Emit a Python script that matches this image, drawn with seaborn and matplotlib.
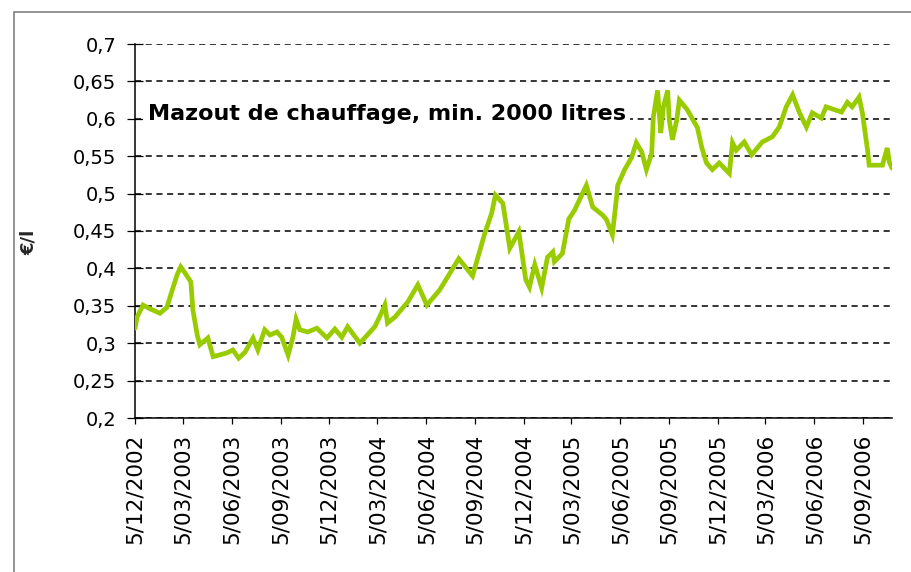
import matplotlib
matplotlib.use("Agg")
import matplotlib.pyplot as plt
import seaborn as sns
import pandas as pd
from matplotlib.patches import Rectangle

# ---- data ----
dates = [
    "2002-12-05", "2002-12-09", "2002-12-20", "2003-01-02", "2003-01-21", "2003-02-03",
    "2003-02-13", "2003-02-22", "2003-03-01", "2003-03-09", "2003-03-20", "2003-03-24",
    "2003-04-01", "2003-04-06", "2003-04-21", "2003-05-01", "2003-05-27", "2003-06-07",
    "2003-06-18", "2003-06-30", "2003-07-15", "2003-07-24", "2003-08-06", "2003-08-16",
    "2003-08-29", "2003-09-07", "2003-09-19", "2003-09-28", "2003-10-04", "2003-10-11",
    "2003-10-26", "2003-11-12", "2003-12-01", "2003-12-16", "2003-12-29", "2004-01-09",
    "2004-02-01", "2004-02-29", "2004-03-11", "2004-03-19", "2004-03-24", "2004-04-07",
    "2004-05-01", "2004-05-20", "2004-06-06", "2004-06-30", "2004-08-05", "2004-08-31",
    "2004-09-23", "2004-10-06", "2004-10-13", "2004-10-27", "2004-11-09", "2004-11-26",
    "2004-12-09", "2004-12-16", "2004-12-26", "2005-01-08", "2005-01-19", "2005-01-29",
    "2005-02-01", "2005-02-16", "2005-02-28", "2005-03-11", "2005-04-02", "2005-04-14",
    "2005-05-03", "2005-05-10", "2005-05-21", "2005-05-29", "2005-05-31", "2005-06-13",
    "2005-06-26", "2005-07-05", "2005-07-15", "2005-07-24", "2005-08-03", "2005-08-06",
    "2005-08-14", "2005-08-20", "2005-08-25", "2005-09-02", "2005-09-05", "2005-09-11",
    "2005-09-19", "2005-09-24", "2005-10-09", "2005-10-28", "2005-11-05", "2005-11-14",
    "2005-11-25", "2005-12-08", "2005-12-27", "2006-01-02", "2006-01-09", "2006-01-24",
    "2006-02-07", "2006-02-27", "2006-03-18", "2006-03-31", "2006-04-13", "2006-04-25",
    "2006-05-08", "2006-05-21", "2006-06-01", "2006-06-18", "2006-06-27", "2006-07-26",
    "2006-08-06", "2006-08-15", "2006-08-28", "2006-09-03", "2006-09-13", "2006-09-16",
    "2006-10-11", "2006-10-20", "2006-10-24", "2006-10-29",
]
prices = [
    0.320, 0.335, 0.351, 0.346, 0.340, 0.348,
    0.371, 0.391, 0.402, 0.394, 0.382, 0.344,
    0.311, 0.298, 0.307, 0.282, 0.287, 0.291,
    0.280, 0.288, 0.307, 0.291, 0.318, 0.311,
    0.315, 0.308, 0.284, 0.308, 0.332, 0.318,
    0.315, 0.320, 0.307, 0.319, 0.308, 0.322,
    0.300, 0.322, 0.338, 0.351, 0.327, 0.335,
    0.355, 0.378, 0.351, 0.371, 0.413, 0.390,
    0.447, 0.474, 0.498, 0.487, 0.427, 0.449,
    0.385, 0.375, 0.405, 0.374, 0.415, 0.422,
    0.409, 0.420, 0.466, 0.478, 0.511, 0.482,
    0.471, 0.465, 0.445, 0.496, 0.511, 0.532,
    0.548, 0.568, 0.556, 0.532, 0.554, 0.602,
    0.638, 0.581, 0.616, 0.638, 0.598, 0.572,
    0.598, 0.625, 0.612, 0.588, 0.562, 0.541,
    0.532, 0.541, 0.527, 0.568, 0.558, 0.569,
    0.552, 0.569, 0.576, 0.589, 0.616, 0.632,
    0.608, 0.589, 0.608, 0.601, 0.616, 0.609,
    0.622, 0.616, 0.629, 0.609, 0.558, 0.538,
    0.538, 0.561, 0.542, 0.534,
]
tick_dates = [
    "2002-12-05", "2003-03-05", "2003-06-05", "2003-09-05", "2003-12-05",
    "2004-03-05", "2004-06-05", "2004-09-05", "2004-12-05", "2005-03-05",
    "2005-06-05", "2005-09-05", "2005-12-05", "2006-03-05", "2006-06-05",
    "2006-09-05",
]
tick_labels = [
    "5/12/2002", "5/03/2003", "5/06/2003", "5/09/2003", "5/12/2003",
    "5/03/2004", "5/06/2004", "5/09/2004", "5/12/2004", "5/03/2005",
    "5/06/2005", "5/09/2005", "5/12/2005", "5/03/2006", "5/06/2006",
    "5/09/2006",
]
y_ticks = [0.2, 0.25, 0.3, 0.35, 0.4, 0.45, 0.5, 0.55, 0.6, 0.65, 0.7]
y_tick_labels = ["0,2", "0,25", "0,3", "0,35", "0,4", "0,45", "0,5", "0,55", "0,6", "0,65", "0,7"]
title_text = "Mazout de chauffage, min. 2000 litres"
y_label = "€/l"

# ---- plotting ----
sns.set_theme(style="white")
plt.rcParams["font.family"] = ["DejaVu Sans"]

W, H = 912, 572
fig = plt.figure(figsize=(W / 100, H / 100), dpi=100)
fig.patch.set_facecolor("white")
ax = fig.add_axes([135 / W, 1 - 418 / H, (892 - 135) / W, (418 - 44) / H])
ax.set_facecolor("white")

df = pd.DataFrame({"date": pd.to_datetime(dates), "price": prices})
sns.lineplot(data=df, x="date", y="price", color="#99CC00", linewidth=3.4,
             ax=ax, zorder=3, solid_joinstyle="miter")

ax.set_xlim(pd.Timestamp("2002-12-05"), pd.Timestamp("2006-10-29"))
ax.set_ylim(0.2, 0.7)

ax.set_xticks(pd.to_datetime(tick_dates))
ax.set_xticklabels(tick_labels, rotation=90, fontsize=15.5, color="black")
ax.set_yticks(y_ticks)
ax.set_yticklabels(y_tick_labels, fontsize=14, color="black")

ax.grid(axis="y", color="black", linestyle=(0, (4, 3)), linewidth=1.1, zorder=0)
ax.grid(axis="x", visible=False)

for s in ["top", "right"]:
    ax.spines[s].set_visible(False)
for s in ["left", "bottom"]:
    ax.spines[s].set_color("black")
    ax.spines[s].set_linewidth(1.1)

ax.tick_params(axis="y", direction="inout", length=11, width=0.9, color="black", pad=8, left=True)
ax.tick_params(axis="x", direction="out", length=4.5, width=0.9, color="black", pad=7, bottom=True)

ax.set_xlabel("")
ax.set_ylabel(y_label, fontsize=13, fontweight="bold")
ax.yaxis.set_label_coords(-0.128, 0.47)

ax.text(pd.Timestamp("2002-12-29"), 0.607, title_text, fontsize=16, fontweight="bold",
        va="center", ha="left", color="black", zorder=4,
        bbox=dict(facecolor="white", edgecolor="none", boxstyle="square,pad=0.2"))

# outer chart-area frame (left and top edges visible)
fig.patches.append(Rectangle((14 / W, -0.1), 1.2, 1 - 12 / H + 0.1, fill=False,
                             edgecolor="#808080", linewidth=1.2,
                             transform=fig.transFigure, figure=fig))

fig.savefig("out.png", dpi=100)
